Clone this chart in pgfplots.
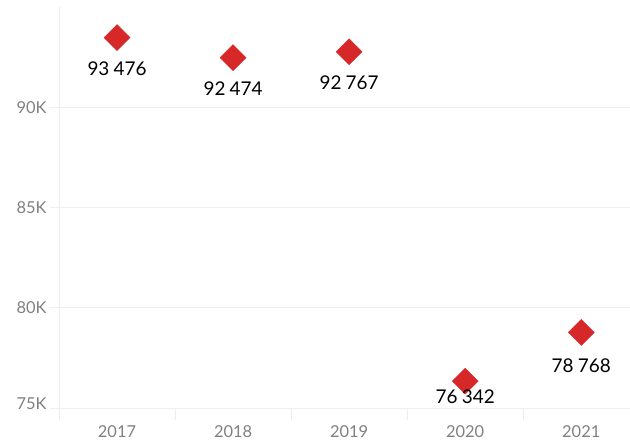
\documentclass[border=0pt]{standalone}
\usepackage{pgfplots}
\pgfplotsset{compat=1.18}
\usepackage{fontspec}
\setmainfont{Lato}
\definecolor{gridgray}{RGB}{238,238,238}
\definecolor{tickgray}{RGB}{128,128,128}
\definecolor{markred}{RGB}{214,40,40}
\begin{document}
\begin{tikzpicture}[x=1bp,y=1bp]
\useasboundingbox (0,0) rectangle (630,440);
\begin{axis}[
  at={(59bp,32bp)}, anchor=south west,
  scale only axis, width=571bp, height=401bp,
  xmin=-0.5, xmax=4.42, ymin=75000, ymax=95000,
  clip=false,
  scaled y ticks=false, scaled x ticks=false,
  axis lines*=left,
  x axis line style={draw=none},
  y axis line style={draw=gridgray,-},
  xtick={0,1,2,3,4},
  xticklabels={2017,2018,2019,2020,2021},
  minor xtick={-0.5,0.5,1.5,2.5,3.5},
  major x tick style={draw=none},
  minor x tick style={draw=gridgray, line width=0.8bp},
  minor tick length=12bp,
  ytick={75000,80000,85000,90000},
  yticklabels={\raisebox{9bp}{75K},80K,85K,90K},
  major y tick style={draw=gridgray, line width=0.8bp},
  major tick length=9bp,
  tick align=outside,
  ymajorgrids,
  major grid style={draw=gridgray, line width=0.8bp},
  tick label style={font=\fontsize{16.5}{19}\selectfont, text=tickgray},
  xticklabel style={yshift=-5bp},
  yticklabel style={xshift=0bp},
  /pgf/number format/assume math mode=true,
  /pgf/number format/.cd, 1000 sep={\hspace{0.22em}}, min exponent for 1000 sep=0,
]
\addplot[only marks, color=markred, mark=square*, mark size=9.2bp, mark options={rotate=45, fill=markred, draw=markred},
  point meta=explicit,
  visualization depends on={\thisrow{s} \as \myshift},
  nodes near coords,
  every node near coord/.append style={anchor=center, yshift=\myshift, font=\fontsize{19}{22}\selectfont, text=black, /pgf/number format/1000 sep={\hspace{0.22em}}, /pgf/number format/min exponent for 1000 sep=0, /pgf/number format/assume math mode=true},
] table[meta=y] {
x y s
0 93476 -31bp
1 92474 -31bp
2 92767 -31bp
3 76342 -16bp
4 78768 -33bp
};
\end{axis}
\end{tikzpicture}
\end{document}
